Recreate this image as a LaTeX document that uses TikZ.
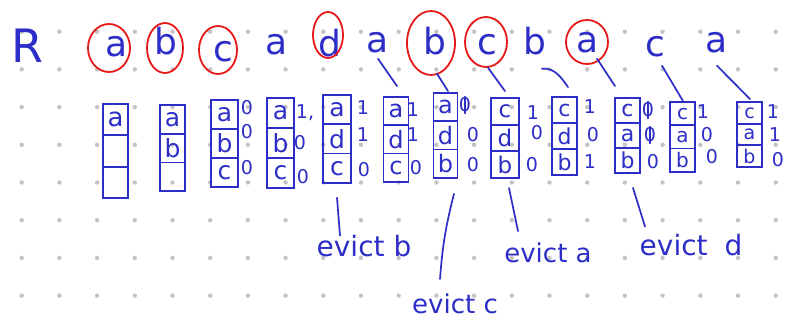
\documentclass[tikz,border=0pt]{standalone}
\usepackage{fontspec}
\setmainfont{DejaVu Sans}
\usetikzlibrary{calc}
\definecolor{ink}{RGB}{45,45,200}
\definecolor{redink}{RGB}{230,25,25}
\definecolor{dotc}{RGB}{195,195,195}
\tikzset{
  pen/.style={draw=ink, line width=1.7pt, line cap=round, line join=round},
  cell/.style={draw=ink, line width=1.8pt, text=ink, inner sep=0pt, anchor=center},
  bit/.style={text=ink, inner sep=0pt, font=\fontsize{19}{19}\selectfont},
  refl/.style={text=ink, inner sep=0pt, anchor=base, font=\fontsize{36}{36}\selectfont},
  evictlbl/.style={text=ink, inner sep=0pt, anchor=base},
  ring/.style={draw=redink, line width=1.8pt},
}
\begin{document}
\begin{tikzpicture}[x=1pt,y=-1pt]
\fill[white] (0,0) rectangle (795,326);
\useasboundingbox (0,0) rectangle (795,326);
% dot grid
\foreach \i in {0,...,20}{
  \foreach \j in {0,...,7}{
    \fill[dotc] ({21.7+37.7*\i},{31.7+37.7*\j}) circle[radius=2.2];
  }
}
% reference string
\node[text=ink, inner sep=0pt, anchor=base, font=\fontsize{46}{46}\selectfont] (rR) at (27,63) {R};
\foreach \n/\x/\y/\t in {1/117/57/a, 2/166/55/b, 3/223/62/c, 4/277/55/a, 5/330/57/d, 6/378/53/a,
  7/435/55/b, 8/487/55/c, 9/535/55/b, 10/588/53/a, 11/655/57/c, 12/717/53/a}{
  \node[refl] (r\n) at (\x,\y) {\t};
}
% page-fault circles
\draw[ring] (109,48) ellipse[x radius=21, y radius=24];
\draw[ring] (165,48) ellipse[x radius=18, y radius=25];
\draw[ring] (218,50) ellipse[x radius=19, y radius=24];
\draw[ring] (328,35) ellipse[x radius=15, y radius=23];
\draw[ring] (431,43) ellipse[x radius=24, y radius=32];
\draw[ring] (486,42) ellipse[x radius=21, y radius=25];
\draw[ring] (587,42) ellipse[x radius=21, y radius=22];
% frame columns
\foreach \n/\cx/\top/\w/\h/\fs/\la/\lb/\lc in {
  1/115.5/104/25/31.3/26/a/{}/{},
  2/172.5/105/25/28.7/25/a/b/{},
  3/224.5/100/27/29/25/a/b/c,
  4/280.5/98/27/30/25/a/b/c,
  5/337/95/28/29.3/25/a/d/c,
  6/396/97/25/28.3/24/a/d/c,
  7/445.5/93/24/28.3/24/a/d/b,
  8/505/98/28/26.7/23/c/d/b,
  9/564.5/97/25/26/22/c/d/b,
  10/627.5/98/25/25/22/c/a/b,
  11/682.5/102/25/23.3/20/c/a/b,
  12/749.5/102/25/21.7/19/c/a/b}{
  \foreach \k/\l in {1/\la,2/\lb,3/\lc}{
    \node[cell, minimum width=\w, minimum height=\h, font=\fontsize{\fs}{\fs}\selectfont]
      (c\n-\k) at ({\cx},{\top+(\k-0.5)*\h}) {\l};
  }
}
% use bits
\foreach \n/\k/\x/\y/\t in {
  3/1/247/108/0, 3/2/247/132/0, 3/3/247/168/0,
  4/1/305/113/{1,}, 4/2/300/143/0, 4/3/303/177/0,
  5/1/363/108/1, 5/2/363/135/1, 5/3/364/170/0,
  6/1/413/110/1, 6/2/413/135/1, 6/3/416/168/0,
  7/1/465/105/0, 7/2/473/135/0, 7/3/473/165/0,
  8/1/533/113/1, 8/2/537/133/0, 8/3/532/165/0,
  9/1/590/107/1, 9/2/593/135/0, 9/3/590/162/1,
  10/1/648/110/0, 10/2/650/135/0, 10/3/653/162/0,
  11/1/703/112/1, 11/2/707/135/0, 11/3/712/157/0,
  12/1/773/112/1, 12/2/775/135/1, 12/3/778/160/0}{
  \node[bit] (b\n-\k) at (\x,\y) {\t};
}
% struck-through bits (1 overwritten by 0)
\draw[pen, line width=1.3pt] ($(b7-1.north)+(0,-1)$) -- ($(b7-1.south)+(0,1)$);
\draw[pen, line width=1.3pt] ($(b10-1.north)+(0,-1)$) -- ($(b10-1.south)+(0,1)$);
\draw[pen, line width=1.3pt] ($(b10-2.north)+(0,-1)$) -- ($(b10-2.south)+(0,1)$);
% clock hand pointers
\draw[pen] ($(r6.south)+(0,5)$) -- ($(c6-1.north)+(1,-10)$);
\draw[pen] ($(r7.south)+(2,18)$) -- ($(c7-1.north)+(2.5,-1)$);
\draw[pen] ($(r8.south)+(1,12)$) -- ($(c8-1.north)+(0,-6)$);
\draw[pen] ($(r9.south)+(7,13)$) to[out=5,in=125] ($(c9-1.north)+(3.5,-9)$);
\draw[pen] ($(r10.south)+(9,5)$) -- ($(c10-1.north)+(-12.5,-11)$);
\draw[pen] ($(r11.south)+(7,8)$) -- ($(c11-1.north)+(0.5,0)$);
\draw[pen] ($(r12.south)+(0,12)$) -- ($(c12-1.north)+(0.5,-2)$);
% eviction labels
\node[evictlbl, font=\fontsize{28}{28}\selectfont] (eb) at (364,256) {evict b};
\node[evictlbl, font=\fontsize{26}{26}\selectfont] (ec) at (455,313) {evict c};
\node[evictlbl, font=\fontsize{26}{26}\selectfont] (ea) at (548,262) {evict a};
\node[evictlbl, font=\fontsize{28}{28}\selectfont] (ed) at (691,255) {evict\hspace{0.6em}d};
\draw[pen] ($(c5-3.south)+(0,14)$) -- ($(eb.north)+(-24,1)$);
\draw[pen] ($(c7-3.south)+(8.5,15)$) to[bend right=5] ($(ec.north)+(-15,-14)$);
\draw[pen] ($(c8-3.south)+(4,9)$) -- ($(ea.north)+(-30,-11)$);
\draw[pen] ($(c10-3.south)+(5.5,14)$) -- ($(ed.north)+(-46,-7)$);
\end{tikzpicture}
\end{document}
